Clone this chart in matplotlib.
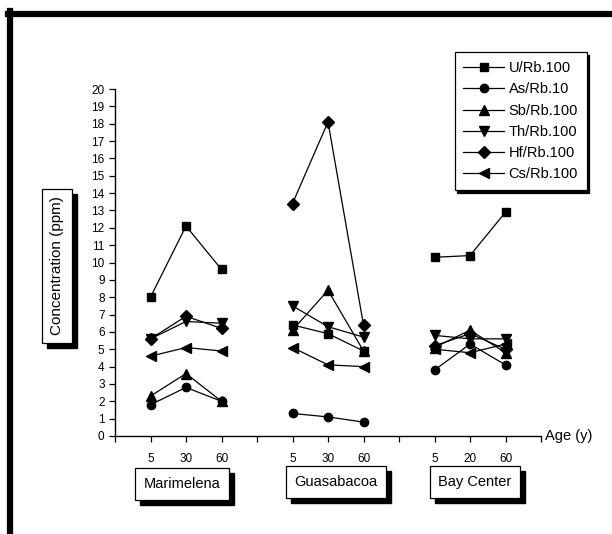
import matplotlib.pyplot as plt
from matplotlib.lines import Line2D
from matplotlib.patches import Rectangle

plt.rcParams['font.family'] = ['Liberation Sans', 'DejaVu Sans']

# sites and sampling ages (years)
sites = ['Marimelena', 'Guasabacoa', 'Bay Center']
ages = [['5', '30', '60'], ['5', '30', '60'], ['5', '20', '60']]

# ratios per site, 3 ages each
u_rb = [[8.0, 12.1, 9.6], [6.4, 5.9, 4.9], [10.3, 10.4, 12.9]]
as_rb = [[1.8, 2.8, 2.0], [1.3, 1.1, 0.8], [3.8, 5.3, 4.1]]
sb_rb = [[2.3, 3.6, 2.0], [6.1, 8.4, 4.9], [5.1, 6.1, 4.8]]
th_rb = [[5.6, 6.6, 6.5], [7.5, 6.3, 5.7], [5.8, 5.6, 5.6]]
hf_rb = [[5.6, 6.9, 6.2], [13.4, 18.1, 6.4], [5.2, 5.9, 5.0]]
cs_rb = [[4.6, 5.1, 4.9], [5.1, 4.1, 4.0], [5.0, 4.8, 5.3]]

series = [
    ('U/Rb.100', u_rb, 's', 5.5),
    ('As/Rb.10', as_rb, 'o', 6),
    ('Sb/Rb.100', sb_rb, '^', 6.5),
    ('Th/Rb.100', th_rb, 'v', 6.5),
    ('Hf/Rb.100', hf_rb, 'D', 6),
    ('Cs/Rb.100', cs_rb, '<', 6.5),
]

fig = plt.figure(figsize=(6.12, 5.34), dpi=100)
W, H = 612, 534
ax = fig.add_axes([115 / W, 1 - 436 / H, (541 - 115) / W, (436 - 89) / H])

handles = []
for name, vals, mk, ms in series:
    for g, v in enumerate(vals):
        xs = [4 * g + 1 + i for i in range(len(v))]
        ax.plot(xs, v, color='black', lw=0.9, marker=mk, ms=ms,
                mfc='black', mec='black')
    handles.append(Line2D([], [], color='black', lw=0.9, marker=mk, ms=ms))

ax.set_xlim(0, 12)
ax.set_ylim(0, 20)
ax.set_yticks(range(0, 21))
ax.set_xticks(range(0, 13))
xlabels = [''] * 13
for g, a in enumerate(ages):
    for i, lab in enumerate(a):
        xlabels[4 * g + 1 + i] = lab
ax.set_xticklabels(xlabels)
ax.tick_params(axis='both', direction='out', length=4, width=0.9,
               labelsize=8.5)
ax.tick_params(axis='x', pad=8)
for s in ['top', 'right']:
    ax.spines[s].set_visible(False)
for s in ['left', 'bottom']:
    ax.spines[s].set_linewidth(1.0)

ax.text(1.01, 0, 'Age (y)', transform=ax.transAxes, fontsize=10.5,
        ha='left', va='center')


def shadow_box(cx, cy, text, rot=0, size=10.5, pad=0.55):
    t = fig.text(cx / W, 1 - cy / H, text, rotation=rot, ha='center',
                 va='center', fontsize=size, zorder=5,
                 bbox=dict(boxstyle='square,pad=%s' % pad, fc='white',
                           ec='black', lw=0.9))
    fig.canvas.draw()
    bb = t.get_bbox_patch().get_window_extent()
    fig.add_artist(Rectangle((bb.x0 + 5, bb.y0 - 5), bb.width, bb.height,
                             transform=None, fc='black', ec='black',
                             zorder=4))


shadow_box(57, 266, 'Concentration (ppm)', rot=90, size=11, pad=0.5)
shadow_box(182, 484, sites[0], pad=0.6)
shadow_box(336, 482, sites[1], pad=0.6)
shadow_box(475, 482, sites[2], pad=0.6)

leg = fig.legend(handles, [s[0] for s in series], loc='upper right',
                 bbox_to_anchor=(594 / W, 1 - 45 / H),
                 bbox_transform=fig.transFigure, fancybox=False,
                 shadow={'color': 'black', 'alpha': 1}, edgecolor='black',
                 framealpha=1, fontsize=10.5, handlelength=2.8,
                 labelspacing=0.5, borderpad=0.6, handletextpad=0.3)
leg.get_frame().set_linewidth(0.9)

# thick frame on left and top
fig.add_artist(Line2D([10 / W, 10 / W], [0, 1 - 11 / H], color='black',
                      lw=4.5, transform=fig.transFigure))
fig.add_artist(Line2D([8 / W, 1], [1 - 14 / H, 1 - 14 / H], color='black',
                      lw=4.5, transform=fig.transFigure))

fig.savefig('out.png', dpi=100)
